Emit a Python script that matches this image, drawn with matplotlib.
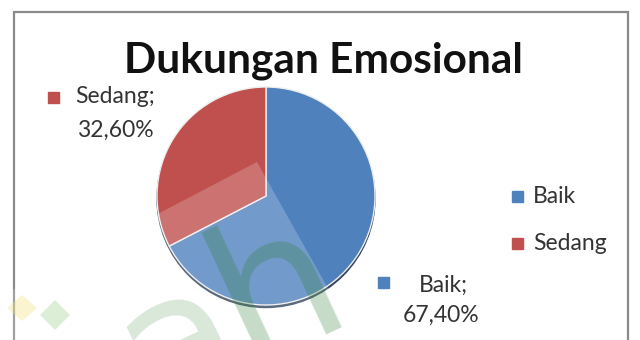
import matplotlib
matplotlib.use("Agg")
import matplotlib.pyplot as plt
from matplotlib.patches import Rectangle, Polygon, Ellipse
import numpy as np

# ---- data ----
title = "Dukungan Emosional"
categories = ["Baik", "Sedang"]
values = [67.40, 32.60]
value_labels = ["67,40%", "32,60%"]
colors = ["#4F81BD", "#C0504D"]

W, H = 640, 340
fig = plt.figure(figsize=(6.4, 3.4), dpi=100)
ax = fig.add_axes([0, 0, 1, 1])

FONT = ["Lato", "DejaVu Sans"]
TXT = "#333333"

def Y(y):
    return H - y

# pie shadow
cx, cy, r = 266, 196, 109
ax.add_patch(Ellipse((cx, Y(cy) - 2.5), 2 * r, 2 * r, color="#34465e", zorder=2))

wedges, _ = ax.pie(values, colors=colors, startangle=90, counterclock=False,
                   center=(cx, Y(cy)), radius=r, frame=True,
                   wedgeprops=dict(edgecolor="#eeeeee", linewidth=1.0))
for w in wedges:
    w.set_zorder(3)
ax.set_xlim(0, W)
ax.set_ylim(0, H)
ax.set_aspect("equal")
ax.axis("off")

# frame
ax.add_patch(Rectangle((14, Y(400)), 614, 388, fill=False, edgecolor="#8a8a8a", lw=1.6, zorder=1))

# title
ax.text(323, Y(73), title, ha="center", va="baseline", fontsize=30.5, fontweight="bold",
        family=FONT, color="#111111", zorder=10)

# data labels
ax.add_patch(Rectangle((48, Y(103)), 11, 11, color=colors[1], zorder=10))
ax.text(115, Y(103), categories[1] + ";", ha="center", va="baseline", fontsize=16.5,
        family=FONT, color=TXT, zorder=10)
ax.text(115, Y(137), value_labels[1], ha="center", va="baseline", fontsize=16.5,
        family=FONT, color=TXT, zorder=10)

ax.add_patch(Rectangle((378, Y(288)), 11, 11, color=colors[0], zorder=10))
ax.text(443, Y(292), categories[0] + ";", ha="center", va="baseline", fontsize=16.5,
        family=FONT, color=TXT, zorder=10)
ax.text(441, Y(322), value_labels[0], ha="center", va="baseline", fontsize=16.5,
        family=FONT, color=TXT, zorder=10)

# legend
for i, (cat, col) in enumerate(zip(categories, colors)):
    base = 203 + i * 47
    ax.add_patch(Rectangle((512, Y(base - 1)), 11, 11, color=col, zorder=10))
    ax.text(533, Y(base), cat, ha="left", va="baseline", fontsize=16.5,
            family=FONT, color=TXT, zorder=10)

# watermark: translucent band
C = np.array([257, Y(162)])
u1 = np.array([-107, -56]) / np.hypot(107, 56)
u2 = np.array([68, -121]) / np.hypot(68, 121)
band = [C, C + 600 * u1, C + 600 * u1 + 600 * u2, C + 600 * u2]
ax.add_patch(Polygon(band, closed=True, color="white", alpha=0.2, lw=0, zorder=5))

# watermark letters
ax.text(246, Y(364), "h", fontsize=137, family="DejaVu Sans", color="#2E7D32",
        alpha=0.27, rotation=25, rotation_mode="anchor", ha="left", va="baseline", zorder=6)
ax.text(150, Y(420), "a", fontsize=137, family="DejaVu Sans", color="#2E7D32",
        alpha=0.18, rotation=25, rotation_mode="anchor", ha="left", va="baseline", zorder=6)
ax.add_patch(Polygon([[7, Y(308)], [22, Y(295)], [37, Y(308)], [22, Y(321)]],
                     color="#F6E27A", alpha=0.35, lw=0, zorder=6))
ax.add_patch(Polygon([[40, Y(315)], [55, Y(300)], [70, Y(315)], [55, Y(330)]],
                     color="#9BD08A", alpha=0.35, lw=0, zorder=6))

fig.savefig("out.png", dpi=100, facecolor="white")
